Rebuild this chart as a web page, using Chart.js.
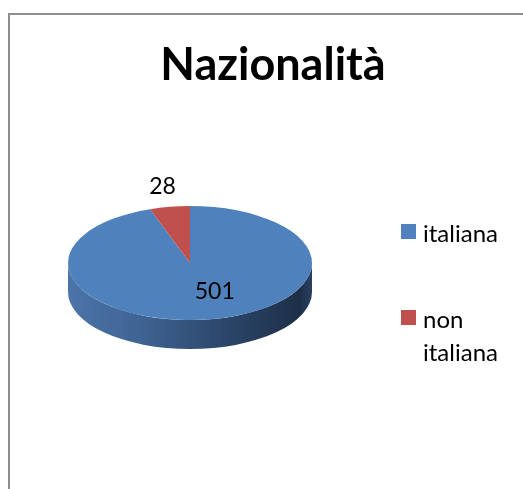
<!DOCTYPE html>
<html>
<head>
<meta charset="utf-8">
<script src="https://cdn.jsdelivr.net/npm/chart.js@4"></script>
<style>
  body{margin:0;background:#fff;width:523px;height:489px;overflow:hidden;position:relative;font-family:Lato,"Open Sans",sans-serif;}
  #frame{position:absolute;left:8px;top:13px;width:700px;height:700px;border-left:2px solid #8e8e8e;border-top:2px solid #8e8e8e;}
  #wrap{position:absolute;left:0;top:0;width:523px;height:489px;}
  #title{position:absolute;left:0;top:36px;width:546px;text-align:center;font-size:45px;font-weight:bold;line-height:54px;color:#000;}
  #legend{position:absolute;left:401px;top:216px;font-size:24px;color:#000;line-height:33px;}
  #legend .item{display:flex;align-items:flex-start;width:110px;margin-bottom:53px;}
  #legend .box{width:15px;height:15px;margin-top:8px;margin-right:7px;flex:none;}
</style>
</head>
<body>
<div id="frame"></div>
<div id="wrap"><canvas id="chart"></canvas></div>
<div id="title"></div>
<div id="legend"></div>
<script>
// ===== Dati =====
const labels = ["italiana", "non italiana"];
const values = [501, 28];
const colors = ["#4F81BD", "#C0504D"];
const titleText = "Nazionalità";

// ===== Effetto 3D (ellisse + bordo laterale) =====
const tilt = 0.467;   // rapporto asse verticale / orizzontale
const depth = 29;     // spessore in pixel

const pie3d = {
  id: "pie3d",
  beforeDatasetsDraw(chart){
    const ctx = chart.ctx;
    const arcs = chart.getDatasetMeta(0).data;
    const cx = arcs[0].x, cy = arcs[0].y, r = arcs[0].outerRadius;
    ctx.save();
    ctx.translate(cx, cy); ctx.scale(1, tilt); ctx.translate(-cx, -cy);
    const d = depth / tilt;
    const grad = ctx.createLinearGradient(cx - r, 0, cx + r, 0);
    grad.addColorStop(0, "#4c74a9");
    grad.addColorStop(0.3, "#3f6392");
    grad.addColorStop(0.65, "#2b4669");
    grad.addColorStop(0.95, "#1d2f48");
    grad.addColorStop(1, "#2a4161");
    arcs.forEach((a, i) => {
      // solo la parte frontale (0..PI) è visibile
      const s = Math.max(a.startAngle, 0), e = Math.min(a.endAngle, Math.PI);
      if (e <= s) return;
      ctx.beginPath();
      ctx.arc(cx, cy + d, r, s, e);
      ctx.arc(cx, cy, r, e, s, true);
      ctx.closePath();
      ctx.fillStyle = i === 0 ? grad : "#8e3a38";
      ctx.fill();
    });
    // la faccia superiore viene disegnata schiacciata
    ctx.restore();
    ctx.save();
    ctx.translate(cx, cy); ctx.scale(1, tilt); ctx.translate(-cx, -cy);
  },
  afterDatasetsDraw(chart){
    chart.ctx.restore();
  }
};

// ===== Etichette valori =====
const valueLabels = {
  id: "valueLabels",
  afterDraw(chart){
    const ctx = chart.ctx;
    const arcs = chart.getDatasetMeta(0).data;
    const total = values.reduce((x, y) => x + y, 0);
    ctx.save();
    ctx.font = "23px Lato";
    ctx.fillStyle = "#000";
    ctx.textAlign = "center";
    ctx.textBaseline = "middle";
    arcs.forEach((a, i) => {
      const mid = (a.startAngle + a.endAngle) / 2;
      const r = a.outerRadius;
      const inside = values[i] / total > 0.5;
      const f = inside ? 0.5 : 1.36;
      let x = a.x + Math.cos(mid) * r * f;
      let y = a.y + Math.sin(mid) * r * f * tilt;
      if (inside) x += r * 0.12;
      ctx.fillText(String(values[i]), x, y);
    });
    ctx.restore();
  }
};

// ===== Chart =====
new Chart(document.getElementById("chart"), {
  type: "pie",
  data: {
    labels: labels,
    datasets: [{ data: values, backgroundColor: colors, borderWidth: 0 }]
  },
  options: {
    responsive: true,
    maintainAspectRatio: false,
    animation: false,
    events: [],
    layout: { padding: { left: 68, right: 211, top: 141, bottom: 104 } },
    plugins: {
      legend: { display: false },
      tooltip: { enabled: false },
      title: { display: false }
    }
  },
  plugins: [pie3d, valueLabels]
});

// ===== Titolo e legenda =====
document.getElementById("title").textContent = titleText;
const legend = document.getElementById("legend");
labels.forEach((l, i) => {
  legend.innerHTML += `<div class="item"><span class="box" style="background:${colors[i]}"></span><span>${l}</span></div>`;
});
</script>
</body>
</html>
